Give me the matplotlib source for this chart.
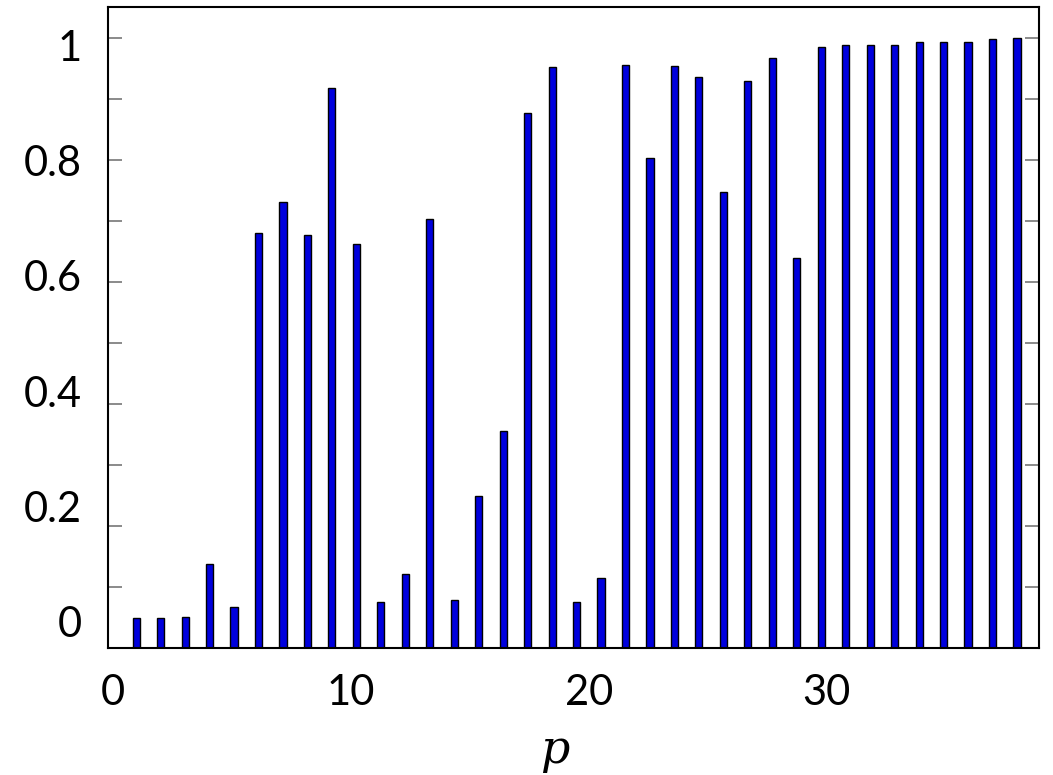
import numpy as np
import matplotlib.pyplot as plt
from matplotlib.ticker import MultipleLocator, FixedLocator, FuncFormatter

# datos: probabilidad para cada p
p = np.arange(1, 38)
prob = [0.049, 0.049, 0.051, 0.137, 0.067, 0.680, 0.732, 0.677, 0.918, 0.663,
        0.075, 0.121, 0.704, 0.078, 0.249, 0.355, 0.877, 0.953, 0.075, 0.115,
        0.956, 0.804, 0.955, 0.936, 0.748, 0.929, 0.967, 0.639, 0.986, 0.989,
        0.989, 0.989, 0.993, 0.994, 0.994, 0.998, 1.000]
xticks = [0, 10, 20, 30]
yticks = [0, 0.2, 0.4, 0.6, 0.8, 1]

plt.rcParams['font.family'] = ['Lato', 'DejaVu Sans']

fig = plt.figure(figsize=(10.53, 7.75), dpi=100)
ax = fig.add_axes([0.1026, 0.1639, 0.8841, 0.8271])

ax.bar(p, prob, width=0.29, color='#0000dd', edgecolor='black', linewidth=1.0)

ax.set_xlim(-0.15, 37.9)
ax.set_ylim(0, 1.051)

# marcas del eje y (sin etiquetas), a ambos lados
ax.yaxis.set_major_locator(MultipleLocator(0.1))
ax.tick_params(axis='y', which='both', direction='in', length=10, width=1.2,
               color='#777777', left=True, right=True, labelleft=False)
ax.tick_params(axis='x', bottom=False, labelbottom=False)
for s in ax.spines.values():
    s.set_linewidth(1.5)
    s.set_color('black')

# etiquetas de los ejes (colocadas como en la figura original)
sy = ax.secondary_yaxis('left', functions=(lambda u: (610 * u - 26) / 577,
                                           lambda v: (577 * v + 26) / 610))
sy.yaxis.set_major_locator(FixedLocator(yticks))
sy.yaxis.set_major_formatter(FuncFormatter(lambda v, pos: f'{v:g}'))
sy.tick_params(length=0, pad=19, labelsize=30)
sy.spines['left'].set_visible(False)

sx = ax.secondary_xaxis('bottom', functions=(lambda x: (24.5 * x - 1.6) / 23.81,
                                             lambda u: (23.81 * u + 1.6) / 24.5))
sx.xaxis.set_major_locator(FixedLocator(xticks))
sx.tick_params(length=0, pad=19, labelsize=30)
sx.spines['bottom'].set_visible(False)

ax.set_xlabel('p', fontsize=33, family='DejaVu Serif', style='italic')
ax.xaxis.set_label_coords(0.48, -0.125)

plt.savefig('out.png', dpi=100)
